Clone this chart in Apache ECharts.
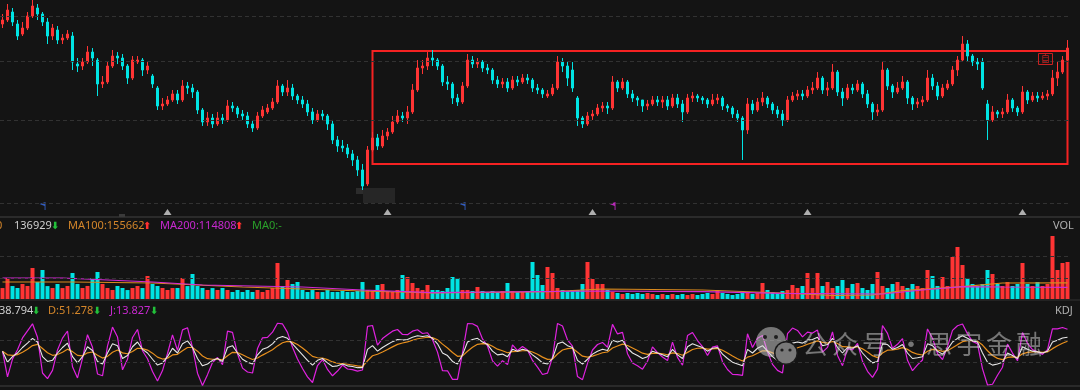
<!DOCTYPE html>
<html><head><meta charset="utf-8">
<script src="https://cdn.jsdelivr.net/npm/echarts@6/dist/echarts.min.js"></script>
<style>html,body{margin:0;padding:0;background:#141414;overflow:hidden}#main{width:1080px;height:390px}</style>
</head><body><div id="main"></div>
<script>
// [open, close, low, high]
const ohlc = [
[48.08,49.03,47.14,50.49],[49.03,51.49,48.55,53.03],[50.99,48.55,47.61,52.00],[48.08,45.33,44.45,49.03],[45.77,47.14,45.33,48.55],
[47.14,50.00,46.68,50.99],[50.00,52.51,49.51,54.08],[52.00,50.49,49.03,53.03],[50.49,48.55,47.61,50.99],[48.55,45.33,43.59,49.51],
[45.33,47.14,44.45,48.08],[46.68,44.45,43.59,47.61],[44.45,44.89,43.59,45.77],[44.89,45.77,44.45,46.68],[45.33,39.91,38.38,46.23],
[39.52,39.14,38.00,40.70],[39.14,39.91,38.38,40.70],[39.91,41.91,39.52,43.16],[41.91,40.70,39.14,42.74],[40.30,35.84,33.79,40.70],
[35.84,36.19,35.14,37.27],[36.19,39.14,35.84,39.91],[39.14,41.10,38.76,42.33],[41.10,40.70,39.52,41.91],[40.70,39.14,38.38,41.51],
[39.14,36.90,35.84,39.52],[36.90,40.30,36.54,41.10],[39.91,40.30,39.52,41.10],[40.30,38.38,37.27,40.70],[38.38,39.14,37.63,39.91],
[37.27,35.84,35.14,37.63],[35.14,32.18,31.55,35.49],[32.18,32.49,31.55,33.46],[32.49,33.14,32.18,33.79],[33.14,34.13,32.81,34.80],
[34.13,33.14,32.49,34.80],[33.14,35.49,32.81,36.54],[35.49,35.14,34.13,36.19],[35.14,34.46,33.46,35.84],[34.46,31.55,30.94,34.80],
[31.55,29.75,29.18,31.86],[29.75,30.34,29.18,31.25],[30.34,29.46,28.89,30.94],[29.46,30.34,29.18,31.25],[30.34,30.05,29.46,30.94],
[30.05,32.18,29.75,33.14],[32.18,31.86,31.25,32.81],[31.86,30.94,30.34,32.18],[30.94,30.64,30.05,31.55],[30.64,29.46,28.89,31.25],
[29.46,28.89,28.33,30.05],[28.89,30.64,28.61,31.25],[30.64,31.55,30.34,32.18],[31.25,31.86,30.94,32.49],[31.86,32.81,31.55,33.46],
[32.81,35.49,32.49,36.54],[35.49,34.46,33.79,35.84],[34.46,35.14,33.79,36.54],[35.14,33.79,33.14,35.84],[33.79,33.14,32.49,34.13],
[33.14,32.49,31.86,33.79],[32.49,31.25,30.64,33.14],[31.25,30.05,29.46,31.86],[30.05,30.94,29.75,31.55],[30.94,30.64,30.05,31.55],
[30.64,29.46,28.61,30.94],[29.46,27.24,26.71,30.05],[27.24,26.45,25.69,27.78],[26.45,26.20,25.69,27.24],[26.20,25.44,24.94,26.71],
[25.44,24.70,23.98,25.94],[24.70,23.52,22.84,25.19],[23.52,21.74,21.32,24.22],[21.96,25.94,21.74,26.45],[25.94,27.51,25.69,28.33],
[27.51,26.45,25.94,28.06],[26.45,27.78,26.20,28.61],[27.78,28.33,27.24,28.89],[28.33,29.75,28.06,30.64],[29.75,30.64,29.46,31.55],
[30.64,30.34,29.75,31.25],[30.34,31.25,29.46,32.18],[31.25,34.80,30.94,35.84],[34.80,38.76,34.46,40.30],[38.76,39.14,37.63,40.30],
[39.14,40.70,38.38,41.91],[40.70,40.30,39.14,42.33],[40.30,39.14,38.38,40.70],[39.14,36.19,35.49,39.52],[36.19,35.84,34.80,37.27],
[35.84,33.46,32.49,36.19],[33.46,32.81,32.18,34.13],[32.81,35.49,32.49,36.19],[35.49,40.30,35.14,41.51],[40.30,39.52,38.76,41.10],
[39.52,39.91,38.76,40.70],[39.91,38.76,38.00,40.30],[38.76,38.38,37.63,39.52],[38.38,36.54,35.84,38.76],[36.54,35.84,35.14,37.27],
[35.84,36.19,35.14,36.90],[36.19,35.14,34.46,36.90],[35.14,36.54,34.80,37.27],[36.54,36.19,35.49,37.27],[36.19,36.90,35.84,37.63],
[36.90,36.54,35.84,37.63],[36.54,35.14,34.46,36.90],[35.14,34.80,34.13,35.84],[34.80,34.13,33.46,35.14],[33.79,34.13,33.46,34.80],
[34.13,35.14,33.79,35.84],[35.14,39.91,34.80,41.10],[39.91,39.14,38.00,40.70],[39.14,36.90,35.49,39.91],[38.38,35.14,34.46,39.91],
[33.46,30.34,29.18,33.79],[30.34,29.46,28.89,30.64],[29.46,30.64,29.18,31.25],[30.64,30.94,30.05,31.55],[30.94,31.86,30.64,32.49],
[31.86,32.18,31.25,32.81],[32.18,31.86,30.94,32.81],[31.86,36.19,31.55,37.27],[36.19,35.14,34.46,36.54],[35.14,36.19,34.80,36.90],
[36.19,34.13,33.46,36.54],[34.13,33.46,32.81,34.80],[33.46,33.14,32.18,33.79],[33.14,32.18,31.25,33.14],[32.18,32.49,31.55,33.14],
[32.49,33.14,32.18,33.79],[33.14,32.81,32.18,33.79],[32.81,33.14,31.86,33.79],[33.14,32.18,31.55,33.79],[32.18,33.46,31.86,34.13],
[33.46,32.49,31.86,34.13],[32.49,31.25,29.75,33.14],[31.25,33.46,30.94,34.13],[33.46,33.79,32.81,34.46],[33.79,33.46,32.81,34.13],
[33.46,33.14,32.49,33.79],[33.14,32.49,31.86,33.46],[32.49,33.14,32.18,34.13],[33.14,33.46,32.49,34.13],[33.46,32.18,31.55,33.79],
[32.18,31.86,31.25,32.49],[31.86,30.94,30.34,32.18],[30.94,30.34,29.75,31.55],[30.34,28.61,24.70,30.64],[28.61,32.49,28.06,33.46],
[32.49,31.55,30.94,33.14],[31.55,32.81,31.25,33.46],[32.81,33.46,32.18,34.46],[33.46,32.49,31.86,33.79],[32.49,31.55,30.94,32.81],
[31.55,30.94,30.34,32.18],[30.94,30.05,29.18,31.55],[30.05,33.14,29.75,33.79],[33.14,33.79,32.81,34.46],[33.79,34.13,33.14,34.80],
[34.13,33.79,33.14,34.80],[33.79,34.80,33.46,35.49],[34.80,35.14,34.13,36.19],[35.14,36.90,34.80,38.00],[36.90,34.80,34.13,37.27],
[34.80,35.14,33.79,36.19],[35.14,38.00,34.80,39.52],[38.00,34.46,33.79,38.38],[34.46,33.46,32.18,35.14],[33.46,35.14,33.14,35.84],
[35.14,34.80,34.13,35.84],[34.80,35.84,34.46,36.54],[35.84,34.13,33.46,36.19],[34.13,32.49,31.86,34.80],[32.49,31.25,30.05,32.81],
[31.25,31.55,30.64,32.49],[31.55,38.38,31.25,39.91],[38.38,35.49,34.80,38.76],[35.49,34.46,33.46,35.84],[34.46,35.14,34.13,36.19],
[35.14,36.19,34.80,37.27],[36.19,33.46,32.49,36.54],[33.46,32.49,31.55,33.79],[32.49,32.81,31.86,33.46],[32.81,33.14,32.18,33.79],
[33.14,36.90,32.81,38.38],[36.90,35.49,34.80,37.63],[35.49,33.79,33.14,36.19],[33.79,35.14,33.46,35.84],[35.14,35.84,34.80,36.54],
[35.84,38.38,35.49,39.14],[38.38,40.30,37.27,41.10],[40.30,43.59,39.91,45.33],[43.59,41.10,39.91,44.45],[41.10,39.91,39.14,41.51],
[39.91,39.52,38.38,40.70],[39.91,35.14,34.80,40.70],[32.49,30.05,27.24,33.14],[30.05,31.25,29.75,32.18],[31.25,30.94,30.34,31.55],
[30.94,31.25,30.34,31.86],[31.25,33.14,30.94,34.13],[33.14,31.86,31.25,33.46],[31.86,31.25,30.64,32.18],[31.25,34.46,30.94,35.49],
[34.46,33.14,32.49,34.80],[33.14,33.79,32.81,34.46],[33.79,33.46,32.81,34.46],[33.46,33.79,33.14,34.46],[33.79,34.13,33.14,34.80],
[34.13,36.90,33.79,38.38],[36.90,38.00,35.49,39.91],[38.00,40.30,37.63,41.10],[40.30,42.74,39.91,44.45]
];
const volumes = [
108420,199470,126510,108800,145230,126940,290140,163380,272010,126120,
108800,145070,108310,126940,244810,145520,108800,127260,199470,253880,
145070,108650,90670,126940,108800,90210,108800,126940,108470,217610,
145070,126940,108800,90670,108520,108800,199470,126380,235740,126940,
108800,90670,108210,90670,108800,90430,72540,90670,72810,90670,
72540,90920,72540,90670,108800,335480,126940,181340,145070,163210,
90670,72540,90380,72540,72190,90670,72540,72860,81600,72540,
72540,81600,163210,90670,81430,136000,145070,81600,72540,90670,
226680,208540,154140,108800,90670,136000,90670,90210,81600,108800,
208540,199470,90670,90670,81600,117870,81600,72540,81600,72540,
81600,154140,81600,72540,72540,81600,344550,226680,136000,299210,
244810,108800,90670,81600,90670,90670,145070,344550,190410,145070,
145070,90670,72540,63470,54400,63470,54400,63470,54400,63470,
54400,45340,54400,45340,54400,45340,54400,45340,54400,45340,
54400,63470,54400,90670,63470,54400,45340,54400,81600,63470,
54400,63470,154140,90670,72540,63470,81600,90670,136000,108800,
126940,244810,108800,244810,126940,163210,108800,126940,181340,108800,
145070,154140,108800,90670,145070,253880,126940,108800,145070,163210,
126940,108800,145070,126940,108800,272010,217610,126940,208540,126940,
389880,480550,317350,199470,145070,126940,145070,272010,235740,145070,
126940,163210,126940,145070,335480,145070,126940,163210,126940,145070,
580290,272010,335480,344550
];
const kValues = [
50,20,35,45,60,72,85,75,35,22, 25,45,60,72,35,18,35,62,52,22,
15,45,70,65,30,38,62,75,55,45, 28,12,18,35,58,45,70,78,60,30,
10,15,25,30,22,60,65,45,28,20, 15,40,55,60,70,85,90,85,70,55,
40,25,12,25,30,18,8,10,15,10, 8,5,5,55,65,50,60,68,76,82,
80,82,88,92,90,92,85,70,45,38, 22,15,40,75,82,85,75,68,50,40,
42,35,55,50,55,52,40,30,18,15, 30,70,75,65,60,25,15,28,42,50,
55,52,80,75,80,58,45,38,30,35, 50,45,40,35,55,40,30,62,70,65,
60,50,58,60,42,30,20,15,10,55, 45,58,65,50,35,25,18,60,72,75,
72,80,82,88,65,68,85,60,45,60, 58,65,45,30,18,22,70,68,55,60,
68,45,30,32,35,70,65,50,42,55, 75,85,92,85,78,75,45,20,12,15,
20,45,38,30,62,55,50,48,45,50, 75,80,86,88
];
const dValues = [
50,40,38.3,40.5,47,55.3,65.2,68.5,57.3,45.5, 38.7,40.8,47.2,55.5,48.7,38.5,37.3,45.5,47.7,39.1,
31.1,35.7,47.1,53.1,45.4,42.9,49.3,57.9,56.9,52.9, 44.6,33.7,28.5,30.7,39.8,41.5,51,60,60,50,
36.7,29.5,28,28.7,26.5,37.7,46.8,46.2,40.1,33.4, 27.3,31.5,39.3,46.2,54.1,64.4,72.9,76.9,74.6,68.1,
58.7,47.5,35.7,32.1,31.4,26.9,20.6,17.1,16.4,14.3, 12.2,9.8,8.2,23.8,37.5,41.7,47.8,54.5,61.7,68.5,
72.3,75.5,79.7,83.8,85.9,87.9,86.9,81.3,69.2,58.8, 46.5,36,37.3,49.9,60.6,68.7,70.8,69.9,63.3,55.5,
51,45.7,48.8,49.2,51.1,51.4,47.6,41.7,33.8,27.5, 28.3,42.2,53.1,57.1,58.1,47.1,36.4,33.6,36.4,40.9,
45.6,47.7,58.5,64,69.3,65.5,58.7,51.8,44.5,41.3, 44.2,44.5,43,40.3,45.2,43.5,39,46.7,54.5,58,
58.7,55.8,56.5,57.7,52.5,45,36.7,29.5,23,33.7, 37.5,44.3,51.2,50.8,45.5,38.7,31.8,41.2,51.5,59.3,
63.5,69,73.3,78.2,73.8,71.9,76.3,70.9,62.3,61.5, 60.3,61.9,56.3,47.5,37.7,32.5,45,52.7,53.5,55.7,
59.8,54.9,46.6,41.7,39.5,49.7,54.8,53.2,49.5,51.3, 59.2,67.8,75.9,78.9,78.6,77.4,66.6,51.1,38.1,30.4,
26.9,32.9,34.6,33.1,42.7,46.8,47.9,47.9,46.9,47.9, 56.9,64.6,71.7,77.1
];
const jValues = [
50,-20,28.4,54,86,105.4,124.6,88,-9.6,-25, -2.4,53.4,85.6,105,7.6,-23,30.4,95,60.6,-12.2,
-17.2,63.6,115.8,88.8,-0.8,28.2,87.4,109.2,51.2,29.2, -5.2,-31.4,-3,43.6,94.4,52,108,114,60,-10,
-43.4,-14,19,32.6,13,104.6,101.4,42.6,3.8,-6.8, -9.6,57,86.4,87.6,101.8,126.2,124.2,101.2,60.8,28.8,
2.6,-20,-35.4,10.8,27.2,0.2,-17.2,-4.2,12.2,1.4, -0.4,-4.6,-1.4,117.4,120,66.6,84.4,95,104.6,109,
95.4,95,104.6,108.4,98.2,100.2,81.2,47.4,-3.4,-3.6, -27,-27,45.4,125.2,124.8,117.6,83.4,64.2,23.4,9,
24,13.6,67.4,51.6,62.8,53.2,24.8,6.6,-13.6,-10, 33.4,125.6,118.8,80.8,63.8,-19.2,-27.8,16.8,53.2,68.2,
73.8,60.6,123,97,101.4,43,17.6,10.4,1,22.4, 61.6,46,34,24.4,74.6,33,12,92.6,101,79,
62.6,38.4,61,64.6,21,0,-13.4,-14,-16,97.6, 60,85.4,92.6,48.4,14,-2.4,-9.6,97.6,113,106.4,
89,102,99.4,107.6,47.4,60.2,102.4,38.2,10.4,57, 53.4,71.2,22.4,-5,-21.4,1,120,98.6,58,68.6,
84.4,25.2,-3.2,12.6,26,110.6,85.4,43.6,27,62.4, 106.6,119.4,124.2,97.2,76.8,70.2,1.8,-42.2,-40.2,-15.8,
6.2,69.2,44.8,23.8,100.6,71.4,54.2,48.2,41.2,54.2, 111.2,110.8,114.6,109.8
];
// [candle index, value]
const ma100Points = [[0,163200],[14,163200],[30,154100],[48,117900],[60,99700],[72,81600],[86,63500],[110,75300],[120,99700],[140,90700],[156,63500],[166,40800],[174,45300],[180,84300],[192,120600],[200,154100],[213,155662]];
const ma200Points = [[0,199500],[12,199500],[30,163200],[40,136000],[60,117900],[72,90700],[86,66200],[120,81600],[140,75300],[156,60700],[176,54400],[184,90700],[192,120600],[200,118000],[213,114808]];
const priceGridLevels = [50, 40, 30, 20];
const volGridLevels = [200000, 400000];
const kdjGridLevels = [20, 80];
const boxRange = {start: 74, end: 213, top: 42.13, bottom: 24.22};
const triangleMarks = [33, 77, 118, 161, 204];
const blueFlags = [8, 92];
const magentaFlags = [122];
const triPrice = 19.14, flagPrice = 19.71;
const volHeader = {last: '136929', ma100: 'MA100:155662', ma200: 'MA200:114808', ma0: 'MA0:-'};
const kdjHeader = {k: '38.794', d: 'D:51.278', j: 'J:13.827'};
const categories = ohlc.map((_, i) => 'D' + (i + 1));

const UP = '#ff3434', DOWN = '#00e4e4';
const chart = echarts.init(document.getElementById('main'), null, {renderer: 'canvas'});
const dash = {color: '#323232', type: [4, 3], width: 1};
function hline(levels) {
  return {silent: true, symbol: ['none','none'], label: {show: false}, lineStyle: dash,
    emphasis: {disabled: true}, data: levels.map(v => ({yAxis: v}))};
}
const font = '11px "Noto Sans", "DejaVu Sans", sans-serif';
function txt(x, y, s, fill, f) {
  return {type: 'text', x: x, y: y, silent: true, z: 100,
    style: {text: s, fill: fill, font: f || font, textVerticalAlign: 'middle', verticalAlign: 'middle'}};
}
const arrowFont = 'bold 10px "DejaVu Sans", sans-serif';
const wm = 'rgba(215,215,215,0.5)';
const wmFont = '26px "Noto Sans CJK SC", sans-serif';
const graphics = [
  {type: 'rect', shape: {x: 0, y: 216, width: 1080, height: 2}, style: {fill: '#2b2b2b'}, silent: true},
  {type: 'rect', shape: {x: 119, y: 214, width: 6, height: 3}, style: {fill: '#3a3a3a'}, silent: true},
  {type: 'rect', shape: {x: 0, y: 299, width: 1080, height: 2}, style: {fill: '#232323'}, silent: true, z: 50},
  {type: 'rect', shape: {x: 0, y: 385, width: 1080, height: 2}, style: {fill: '#2a2a2a'}, silent: true},
  {type: 'rect', shape: {x: 356, y: 188, width: 8, height: 6}, style: {fill: '#2c2c2c'}, silent: true},
  {type: 'rect', shape: {x: 363, y: 188, width: 32, height: 15}, style: {fill: '#262626'}, silent: true},
  txt(-4, 226, '0', '#d4862a'),
  txt(14, 226, volHeader.last, '#cfcfcf'),
  txt(51, 226, '⬇', '#22c03a', arrowFont),
  txt(68, 226, volHeader.ma100, '#d4862a'),
  txt(143, 226, '⬆', '#ff3030', arrowFont),
  txt(160, 226, volHeader.ma200, '#c828d0'),
  txt(235, 226, '⬆', '#ff3030', arrowFont),
  txt(252, 226, volHeader.ma0, '#2aa02a'),
  txt(1053, 226, 'VOL', '#b0b0b0'),
  txt(-1, 311, kdjHeader.k, '#cfcfcf'),
  txt(32, 311, '⬇', '#22c03a', arrowFont),
  txt(48, 311, kdjHeader.d, '#d4862a'),
  txt(93, 311, '⬇', '#22c03a', arrowFont),
  txt(110, 311, kdjHeader.j, '#c828d0'),
  txt(150, 311, '⬇', '#22c03a', arrowFont),
  txt(1055, 311, 'KDJ', '#b0b0b0'),
  {type: 'rect', shape: {x: 1038.5, y: 53.5, width: 14, height: 11}, style: {fill: 'rgba(0,0,0,0)', stroke: '#c82020', lineWidth: 1}, silent: true, z: 100},
  txt(1041, 59, '自', '#c82020', '9px "Noto Sans CJK SC", sans-serif'),
  {type: 'circle', shape: {cx: 771, cy: 342, r: 15}, style: {fill: wm}, silent: true, z: 100},
  {type: 'circle', shape: {cx: 786, cy: 353, r: 12}, style: {fill: '#1a1a1a'}, silent: true, z: 100},
  {type: 'circle', shape: {cx: 786, cy: 353, r: 10.5}, style: {fill: wm}, silent: true, z: 101},
  {type: 'circle', shape: {cx: 765, cy: 337, r: 2}, style: {fill: '#1e1e1e'}, silent: true, z: 102},
  {type: 'circle', shape: {cx: 776, cy: 337, r: 2}, style: {fill: '#1e1e1e'}, silent: true, z: 102},
  {type: 'circle', shape: {cx: 782, cy: 350, r: 1.6}, style: {fill: '#1e1e1e'}, silent: true, z: 102},
  {type: 'circle', shape: {cx: 790, cy: 350, r: 1.6}, style: {fill: '#1e1e1e'}, silent: true, z: 102}
];
[['公',802],['众',832],['号',862],['·',898],['思',926],['宇',956],['金',986],['融',1016]].forEach(([c, x]) => {
  graphics.push(txt(x, 344, c, wm, wmFont));
});

const volData = volumes.map((v, i) => ({value: v, itemStyle: {color: ohlc[i][1] >= ohlc[i][0] ? UP : DOWN}}));
const flagPath = 'path://M10,0 L10,16 L8.5,16 L8.5,8 L0,4 Z';

const option = {
  backgroundColor: '#141414',
  animation: false,
  grid: [
    {left: 0, right: 10, top: 0, height: 217},
    {left: 0, right: 10, top: 225, height: 75},
    {left: 0, right: 10, top: 320, height: 66}
  ],
  xAxis: [0, 1, 2].map(g => ({type: 'category', gridIndex: g, data: categories, boundaryGap: true, show: false})),
  yAxis: [
    {type: 'log', logBase: 10, gridIndex: 0, min: 18.68, max: 54.08, show: false},
    {type: 'value', gridIndex: 1, min: 0, max: 680000, show: false},
    {type: 'value', gridIndex: 2, min: -45, max: 135, show: false}
  ],
  graphic: graphics,
  series: [
    {type: 'candlestick', xAxisIndex: 0, yAxisIndex: 0, data: ohlc, barWidth: 3, silent: true,
      itemStyle: {color: UP, color0: DOWN, borderColor: UP, borderColor0: DOWN, borderWidth: 1},
      markLine: hline(priceGridLevels),
      markArea: {silent: true, itemStyle: {color: 'rgba(0,0,0,0)', borderColor: '#f52222', borderWidth: 2},
        data: [[{xAxis: boxRange.start, yAxis: boxRange.top}, {xAxis: boxRange.end, yAxis: boxRange.bottom}]]}
    },
    {type: 'scatter', xAxisIndex: 0, yAxisIndex: 0, silent: true, symbol: 'triangle', symbolSize: [8, 6],
      itemStyle: {color: '#d6d6d6'}, data: triangleMarks.map(i => [i, triPrice])},
    {type: 'scatter', xAxisIndex: 0, yAxisIndex: 0, silent: true, symbol: flagPath, symbolSize: [6, 8],
      itemStyle: {color: '#3a6ee8'}, data: blueFlags.map(i => [i, flagPrice])},
    {type: 'scatter', xAxisIndex: 0, yAxisIndex: 0, silent: true, symbol: flagPath, symbolSize: [6, 8],
      itemStyle: {color: '#e030e0'}, data: magentaFlags.map(i => [i, flagPrice])},
    {type: 'bar', xAxisIndex: 1, yAxisIndex: 1, data: volData, barWidth: 4, silent: true, markLine: hline(volGridLevels)},
    {type: 'line', xAxisIndex: 1, yAxisIndex: 1, data: ma100Points, showSymbol: false, silent: true,
      lineStyle: {color: '#d98a1e', width: 1.2}},
    {type: 'line', xAxisIndex: 1, yAxisIndex: 1, data: ma200Points, showSymbol: false, silent: true,
      lineStyle: {color: '#d42ad4', width: 1.2}},
    {type: 'line', xAxisIndex: 2, yAxisIndex: 2, data: jValues, showSymbol: false, silent: true,
      lineStyle: {color: '#e022e0', width: 1.2}, markLine: hline(kdjGridLevels)},
    {type: 'line', xAxisIndex: 2, yAxisIndex: 2, data: dValues, showSymbol: false, silent: true,
      lineStyle: {color: '#e8901e', width: 1.2}},
    {type: 'line', xAxisIndex: 2, yAxisIndex: 2, data: kValues, showSymbol: false, silent: true,
      lineStyle: {color: '#e8e8e8', width: 1.1}}
  ]
};
chart.setOption(option);
</script>
</body></html>
